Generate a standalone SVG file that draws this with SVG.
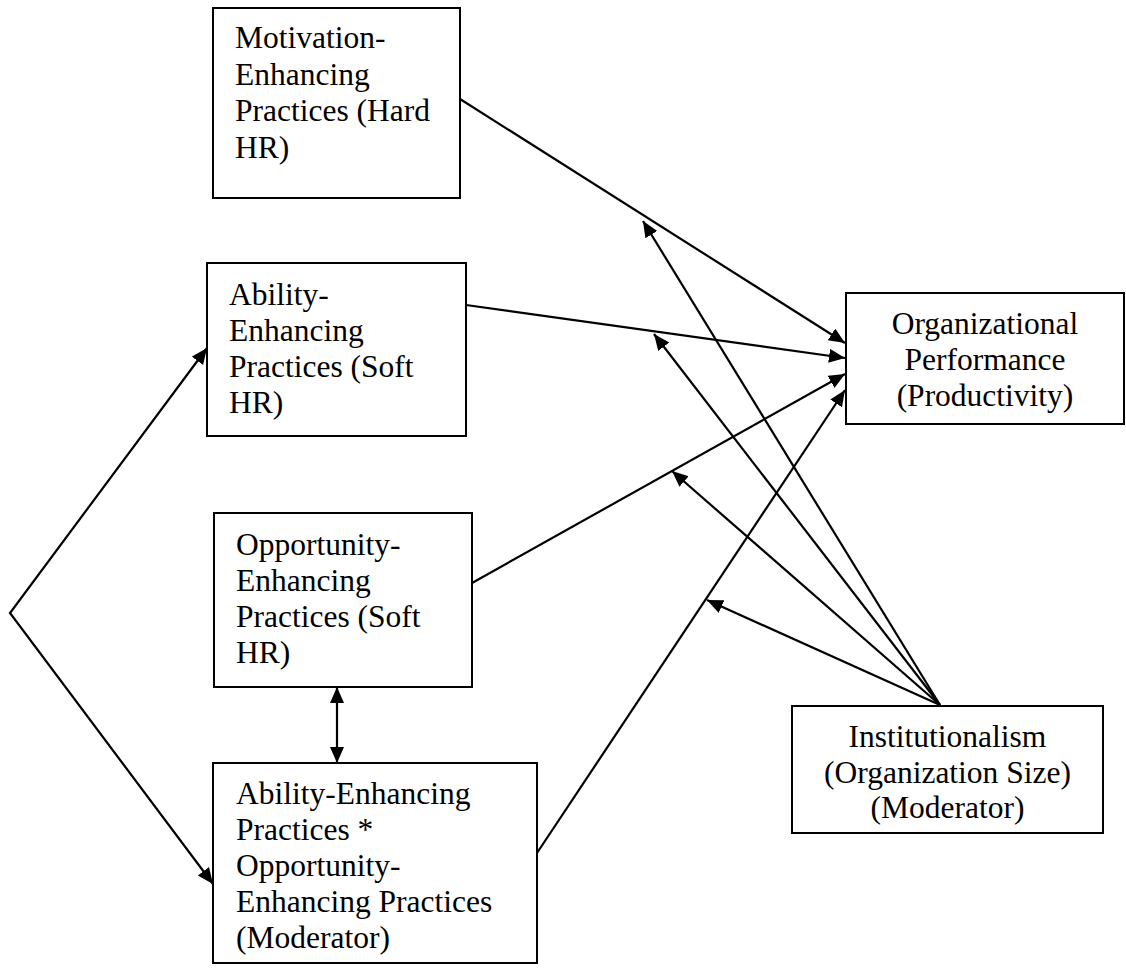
<svg xmlns="http://www.w3.org/2000/svg" width="1126" height="975" viewBox="0 0 1126 975">
<style>
.box{fill:#fff;stroke:#000;stroke-width:2}
.t{font-family:"Liberation Serif","Times New Roman",serif;font-size:31.5px;fill:#000}
.c{text-anchor:middle}
.ln{stroke:#000;stroke-width:2.2;fill:none}
</style>
<defs>
<marker id="ah" markerUnits="userSpaceOnUse" markerWidth="18" markerHeight="16" refX="16" refY="7" orient="auto-start-reverse">
<path d="M0,0 L16,7 L0,14 z" fill="#000"/>
</marker>
</defs>
<rect width="1126" height="975" fill="#fff"/>
<g id="connectors">
<line class="ln" x1="460" y1="99" x2="845" y2="343" marker-end="url(#ah)"/>
<line class="ln" x1="466" y1="305" x2="845" y2="358" marker-end="url(#ah)"/>
<line class="ln" x1="472" y1="583" x2="845" y2="374" marker-end="url(#ah)"/>
<line class="ln" x1="537" y1="853" x2="845" y2="390" marker-end="url(#ah)"/>
<line class="ln" x1="940" y1="705" x2="643" y2="221" marker-end="url(#ah)"/>
<line class="ln" x1="940" y1="705" x2="654" y2="334" marker-end="url(#ah)"/>
<line class="ln" x1="940" y1="705" x2="672" y2="471" marker-end="url(#ah)"/>
<line class="ln" x1="940" y1="705" x2="707" y2="600" marker-end="url(#ah)"/>
<polyline class="ln" points="207,348 10,613 213,884" marker-start="url(#ah)" marker-end="url(#ah)"/>
<line class="ln" x1="337" y1="687" x2="337" y2="763" marker-start="url(#ah)" marker-end="url(#ah)"/>
</g>
<g id="motivation">
<rect class="box" x="213" y="8" width="247" height="190"/>
<text class="t" x="235" y="48">Motivation-</text>
<text class="t" x="235" y="84.5">Enhancing</text>
<text class="t" x="235" y="121">Practices (Hard</text>
<text class="t" x="235" y="157.5">HR)</text>
</g>
<g id="ability">
<rect class="box" x="207" y="263" width="259" height="173"/>
<text class="t" x="229" y="305">Ability-</text>
<text class="t" x="229" y="341">Enhancing</text>
<text class="t" x="229" y="377">Practices (Soft</text>
<text class="t" x="229" y="413">HR)</text>
</g>
<g id="opportunity">
<rect class="box" x="214" y="513" width="258" height="174"/>
<text class="t" x="236" y="555">Opportunity-</text>
<text class="t" x="236" y="591">Enhancing</text>
<text class="t" x="236" y="627">Practices (Soft</text>
<text class="t" x="236" y="663">HR)</text>
</g>
<g id="interaction">
<rect class="box" x="213" y="763" width="324" height="200"/>
<text class="t" x="236" y="804">Ability-Enhancing</text>
<text class="t" x="236" y="840">Practices *</text>
<text class="t" x="236" y="876">Opportunity-</text>
<text class="t" x="236" y="912">Enhancing Practices</text>
<text class="t" x="236" y="948">(Moderator)</text>
</g>
<g id="performance">
<rect class="box" x="846" y="293" width="278" height="131"/>
<text class="t c" x="985" y="334">Organizational</text>
<text class="t c" x="985" y="370">Performance</text>
<text class="t c" x="985" y="406">(Productivity)</text>
</g>
<g id="institutionalism">
<rect class="box" x="792" y="706" width="311" height="127"/>
<text class="t c" x="947.5" y="747">Institutionalism</text>
<text class="t c" x="947.5" y="783">(Organization Size)</text>
<text class="t c" x="947.5" y="818">(Moderator)</text>
</g>
</svg>
